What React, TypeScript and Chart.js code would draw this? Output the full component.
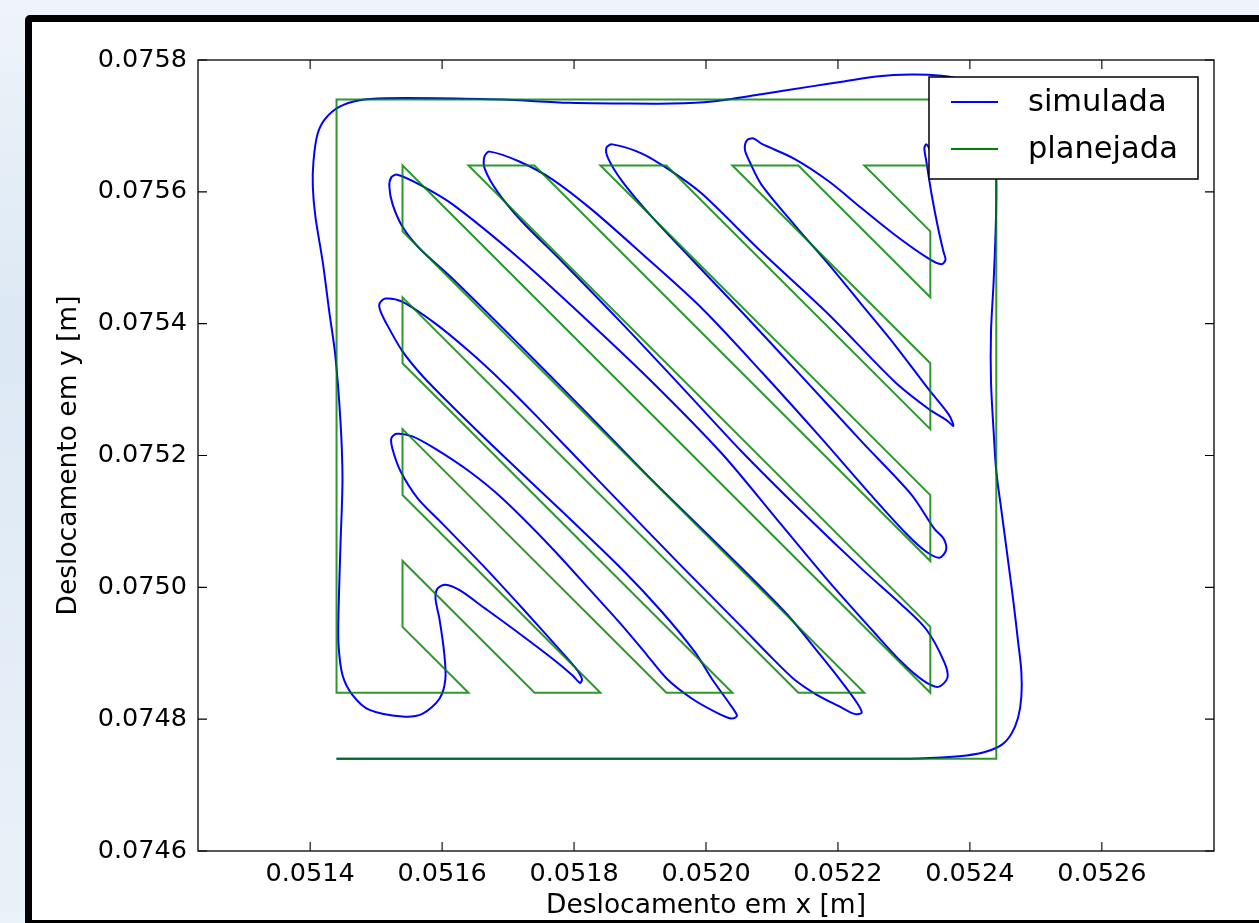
import React, { useEffect, useRef } from "react";
import { Chart, registerables } from "chart.js";

Chart.register(...registerables);

const FONT = "'DejaVu Sans', 'Bitstream Vera Sans', sans-serif";

const seriesNames = ["simulada", "planejada"];
const xTitle = "Deslocamento em x [m]";
const yTitle = "Deslocamento em y [m]";

const xTicks = [0.0514, 0.0516, 0.0518, 0.052, 0.0522, 0.0524, 0.0526];
const yTicks = [0.0746, 0.0748, 0.075, 0.0752, 0.0754, 0.0756, 0.0758];
const xRange = [0.05123, 0.05277];
const yRange = [0.0746, 0.0758];

// planned path (planejada)
const plannedX = [
  0.05144, 0.05244, 0.05244, 0.05144, 0.05144, 0.05164, 0.05154, 0.05154, 0.05174, 0.05184,
  0.05154, 0.05154, 0.05194, 0.05204, 0.05154, 0.05154, 0.05214, 0.05224, 0.05154, 0.05154,
  0.05234, 0.05234, 0.05164, 0.05174, 0.05234, 0.05234, 0.05184, 0.05194, 0.05234, 0.05234,
  0.05204, 0.05214, 0.05234, 0.05234, 0.05224, 0.05234,
];
const plannedY = [
  0.07474, 0.07474, 0.07574, 0.07574, 0.07484, 0.07484, 0.07494, 0.07504, 0.07484, 0.07484,
  0.07514, 0.07524, 0.07484, 0.07484, 0.07534, 0.07544, 0.07484, 0.07484, 0.07554, 0.07564,
  0.07484, 0.07494, 0.07564, 0.07564, 0.07504, 0.07514, 0.07564, 0.07564, 0.07524, 0.07534,
  0.07564, 0.07564, 0.07544, 0.07554, 0.07564, 0.07564,
];

// simulated path (simulada)
const simulatedX = [
  0.05144, 0.051691, 0.051994, 0.052296, 0.052357, 0.052395, 0.052425, 0.052448, 0.052463, 0.052473,
  0.052478, 0.052478, 0.052473, 0.052466, 0.052457, 0.052448, 0.05244, 0.052436, 0.052432, 0.052432,
  0.052436, 0.052439, 0.05244, 0.052439, 0.052432, 0.052414, 0.052387, 0.052357, 0.052311, 0.052258,
  0.052206, 0.05216, 0.052084, 0.052009, 0.051948, 0.051873, 0.051792, 0.051691, 0.05159, 0.051514,
  0.051475, 0.051444, 0.051423, 0.051411, 0.051405, 0.051404, 0.051408, 0.051419, 0.051429, 0.051438,
  0.051446, 0.051449, 0.051446, 0.051443, 0.051443, 0.051449, 0.051464, 0.05149, 0.05154, 0.05157,
  0.051596, 0.051605, 0.051603, 0.051596, 0.05159, 0.051593, 0.051605, 0.051626, 0.051665, 0.051717,
  0.051767, 0.051797, 0.051809, 0.051812, 0.051802, 0.051774, 0.051721, 0.051661, 0.0516, 0.051563,
  0.051537, 0.051525, 0.051523, 0.051531, 0.051555, 0.05159, 0.051641, 0.051691, 0.051767, 0.051827,
  0.051873, 0.05191, 0.051941, 0.051979, 0.052016, 0.052038, 0.052047, 0.052036, 0.052009, 0.051983,
  0.051933, 0.051873, 0.051782, 0.051691, 0.051616, 0.05157, 0.05154, 0.051519, 0.051507, 0.051505,
  0.051514, 0.05154, 0.05159, 0.051641, 0.051691, 0.051741, 0.051842, 0.051964, 0.052054, 0.0521,
  0.052133, 0.052168, 0.052203, 0.052225, 0.052236, 0.052228, 0.052203, 0.052172, 0.052122, 0.052024,
  0.051918, 0.051817, 0.051717, 0.051616, 0.051566, 0.05154, 0.051525, 0.05152, 0.051523, 0.051532,
  0.051566, 0.051616, 0.051717, 0.051817, 0.051918, 0.052024, 0.05211, 0.052186, 0.052251, 0.052296,
  0.05233, 0.052352, 0.052366, 0.052361, 0.052334, 0.052296, 0.052236, 0.052145, 0.052054, 0.051964,
  0.051873, 0.051782, 0.051721, 0.051684, 0.051665, 0.051664, 0.051672, 0.051717, 0.051767, 0.051827,
  0.051903, 0.051994, 0.052084, 0.052175, 0.052251, 0.052304, 0.052334, 0.052354, 0.052364, 0.05236,
  0.052346, 0.052311, 0.052236, 0.052145, 0.052054, 0.051979, 0.051918, 0.051873, 0.051852, 0.051849,
  0.051858, 0.051903, 0.051948, 0.051994, 0.052084, 0.052186, 0.052286, 0.052337, 0.052364, 0.052375,
  0.052368, 0.052337, 0.052286, 0.052236, 0.052186, 0.052134, 0.052084, 0.052066, 0.052059, 0.052062,
  0.052072, 0.052084, 0.052134, 0.052186, 0.052236, 0.052286, 0.052337, 0.052357, 0.052363, 0.05236,
  0.052352, 0.052342, 0.052334, 0.052331, 0.052334, 0.052339, 0.052346,
];
const simulatedY = [
  0.07474, 0.07474, 0.07474, 0.07474, 0.074742, 0.074745, 0.074751, 0.074761, 0.074778, 0.074802,
  0.074834, 0.074872, 0.074918, 0.074978, 0.075047, 0.075115, 0.075176, 0.075236, 0.075312, 0.075388,
  0.075464, 0.07554, 0.0756, 0.075661, 0.075714, 0.075752, 0.07577, 0.075776, 0.075778, 0.075775,
  0.075767, 0.07576, 0.075748, 0.075737, 0.075734, 0.075734, 0.075735, 0.07574, 0.075742, 0.075742,
  0.075739, 0.075729, 0.075711, 0.075687, 0.075646, 0.075608, 0.075562, 0.075494, 0.075418, 0.075353,
  0.075251, 0.075165, 0.075065, 0.074963, 0.074913, 0.074867, 0.074837, 0.074814, 0.074804, 0.074808,
  0.074831, 0.074861, 0.074902, 0.074952, 0.074983, 0.074998, 0.075004, 0.074996, 0.074968, 0.07493,
  0.074892, 0.074867, 0.074855, 0.074861, 0.074878, 0.07491, 0.074969, 0.075034, 0.075097, 0.075135,
  0.075176, 0.075209, 0.075226, 0.075233, 0.075229, 0.07521, 0.075176, 0.075135, 0.075059, 0.074993,
  0.074942, 0.074898, 0.074861, 0.074831, 0.07481, 0.074801, 0.074805, 0.074823, 0.074861, 0.074902,
  0.074963, 0.075027, 0.075115, 0.075201, 0.075274, 0.075321, 0.075358, 0.075394, 0.075418, 0.07543,
  0.075438, 0.075433, 0.0754, 0.075358, 0.075312, 0.075262, 0.075157, 0.075031, 0.07494, 0.074893,
  0.074861, 0.074837, 0.074819, 0.074808, 0.07481, 0.074826, 0.07486, 0.074899, 0.07496, 0.075059,
  0.075163, 0.075267, 0.075368, 0.075468, 0.075514, 0.075547, 0.075581, 0.075608, 0.075622, 0.075626,
  0.075611, 0.075581, 0.075499, 0.075408, 0.075312, 0.075203, 0.0751, 0.075009, 0.074936, 0.074887,
  0.074858, 0.074849, 0.074863, 0.074887, 0.074936, 0.074974, 0.075028, 0.075115, 0.075206, 0.075303,
  0.0754, 0.075494, 0.075555, 0.0756, 0.075634, 0.075653, 0.075661, 0.075646, 0.075619, 0.075573,
  0.075506, 0.075423, 0.075327, 0.075226, 0.075139, 0.075081, 0.075054, 0.075045, 0.075057, 0.075074,
  0.075089, 0.075141, 0.075221, 0.07532, 0.075418, 0.075497, 0.075562, 0.075616, 0.07565, 0.075667,
  0.075672, 0.075658, 0.075631, 0.075597, 0.075509, 0.075414, 0.075312, 0.075271, 0.075254, 0.075245,
  0.075262, 0.075301, 0.075368, 0.075429, 0.07549, 0.07555, 0.075611, 0.075646, 0.075664, 0.075678,
  0.075681, 0.075673, 0.07565, 0.075616, 0.075575, 0.075535, 0.075499, 0.07549, 0.075497, 0.075509,
  0.075544, 0.075596, 0.075646, 0.075666, 0.075672, 0.075664, 0.075643,
];

const BLUE = "#0000ff";
const GREEN = "rgba(0,128,0,0.82)";

export default function App() {
  const ref = useRef<HTMLCanvasElement | null>(null);

  useEffect(() => {
    const canvas = ref.current;
    if (!canvas) return;
    const toPts = (xs: number[], ys: number[]) => xs.map((x, i) => ({ x, y: ys[i] }));

    const mplPlugin = {
      id: "mplFrame",
      afterDatasetsDraw(chart: any) {
        const { ctx, chartArea: a, scales } = chart;
        ctx.save();
        // legend box (opaque, like matplotlib)
        const lx = a.right - 285;
        const ly = a.top + 17;
        const lw = 269;
        const lh = 102;
        ctx.fillStyle = "#ffffff";
        ctx.fillRect(lx, ly, lw, lh);
        ctx.strokeStyle = "#000";
        ctx.lineWidth = 1.5;
        ctx.strokeRect(lx, ly, lw, lh);
        const colors = [BLUE, "#008000"];
        const rowsY = [ly + 25, ly + 72];
        ctx.font = `30.5px ${FONT}`;
        ctx.textBaseline = "alphabetic";
        ctx.textAlign = "left";
        seriesNames.forEach((name, i) => {
          ctx.strokeStyle = colors[i];
          ctx.lineWidth = 2;
          ctx.beginPath();
          ctx.moveTo(lx + 22, rowsY[i]);
          ctx.lineTo(lx + 69, rowsY[i]);
          ctx.stroke();
          ctx.fillStyle = "#000";
          ctx.fillText(name, lx + 99, rowsY[i] + 9);
        });
        // spines
        ctx.strokeStyle = "#000";
        ctx.lineWidth = 1.3;
        ctx.strokeRect(a.left, a.top, a.right - a.left, a.bottom - a.top);
        // inward ticks on all sides
        const tl = 9;
        ctx.lineWidth = 1.1;
        ctx.beginPath();
        xTicks.forEach((v) => {
          const px = scales.x.getPixelForValue(v);
          ctx.moveTo(px, a.bottom);
          ctx.lineTo(px, a.bottom - tl);
          ctx.moveTo(px, a.top);
          ctx.lineTo(px, a.top + tl);
        });
        yTicks.forEach((v) => {
          const py = scales.y.getPixelForValue(v);
          ctx.moveTo(a.left, py);
          ctx.lineTo(a.left + tl, py);
          ctx.moveTo(a.right, py);
          ctx.lineTo(a.right - tl, py);
        });
        ctx.stroke();
        ctx.restore();
      },
    };

    const tickFont = { family: FONT, size: 25.5 };
    const titleFont = { family: FONT, size: 26.5 };

    const chart = new Chart(canvas, {
      type: "scatter",
      data: {
        datasets: [
          {
            label: seriesNames[0],
            data: toPts(simulatedX, simulatedY),
            showLine: true,
            borderColor: BLUE,
            backgroundColor: BLUE,
            borderWidth: 2,
            pointRadius: 0,
            tension: 0.3,
            fill: false,
            order: 2,
          },
          {
            label: seriesNames[1],
            data: toPts(plannedX, plannedY),
            showLine: true,
            borderColor: GREEN,
            backgroundColor: GREEN,
            borderWidth: 2,
            pointRadius: 0,
            tension: 0,
            fill: false,
            order: 1,
          },
        ],
      },
      options: {
        responsive: false,
        animation: false,
        devicePixelRatio: 1,
        events: [],
        layout: { padding: { left: 0, top: 60, right: 45, bottom: 0 } },
        plugins: { legend: { display: false }, tooltip: { enabled: false } },
        scales: {
          x: {
            type: "linear",
            min: xRange[0],
            max: xRange[1],
            afterFit: (s: any) => {
              s.height = 72;
            },
            afterBuildTicks: (s: any) => {
              s.ticks = xTicks.map((v) => ({ value: v }));
            },
            grid: { display: false, drawTicks: false },
            border: { display: false },
            ticks: {
              padding: 8,
              color: "#000",
              font: tickFont,
              maxRotation: 0,
              autoSkip: false,
              callback: (v: any) => Number(v).toFixed(4),
            },
            title: {
              display: true,
              text: xTitle,
              color: "#000",
              font: titleFont,
              padding: { top: 0, bottom: 1 },
            },
          },
          y: {
            type: "linear",
            min: yRange[0],
            max: yRange[1],
            afterFit: (s: any) => {
              s.width = 198;
            },
            afterBuildTicks: (s: any) => {
              s.ticks = yTicks.map((v) => ({ value: v }));
            },
            grid: { display: false, drawTicks: false },
            border: { display: false },
            ticks: {
              padding: 11,
              color: "#000",
              font: tickFont,
              autoSkip: false,
              callback: (v: any) => Number(v).toFixed(4),
            },
            title: {
              display: true,
              text: yTitle,
              color: "#000",
              font: titleFont,
              padding: { top: 53, bottom: 0 },
            },
          },
        },
      },
      plugins: [mplPlugin],
    } as any);

    return () => chart.destroy();
  }, []);

  return (
    <div
      style={{
        position: "absolute",
        left: 0,
        top: 0,
        width: 1259,
        height: 923,
        overflow: "hidden",
        background: "linear-gradient(180deg, #eef4f9 0%, #dce8f4 35%, #e4edf7 70%, #eaf2f9 100%)",
      }}
    >
      <div
        style={{
          position: "absolute",
          left: 25,
          top: 15,
          right: -30,
          bottom: -4,
          background: "#ffffff",
          border: "7px solid #000",
          borderRadius: 5,
        }}
      />
      <canvas
        ref={ref}
        width={1259}
        height={923}
        style={{ position: "absolute", left: 0, top: 0, width: 1259, height: 923 }}
      />
    </div>
  );
}
